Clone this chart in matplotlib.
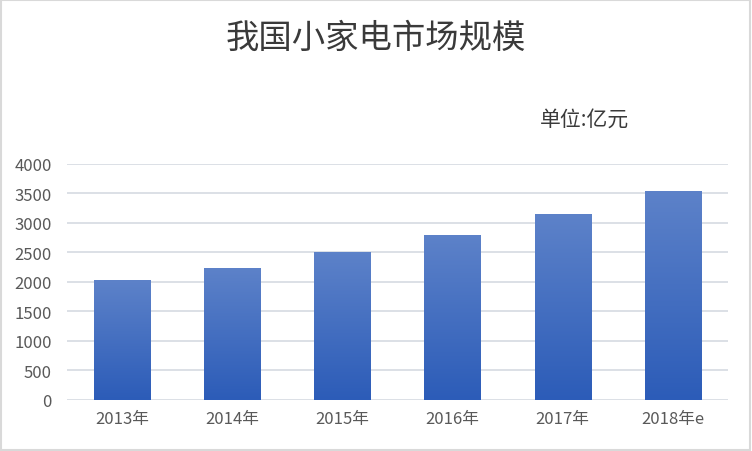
import matplotlib.pyplot as plt
import numpy as np
from matplotlib.patches import Rectangle

plt.rcParams['font.family'] = ['Noto Sans CJK SC', 'DejaVu Sans']

years = ['2013年', '2014年', '2015年', '2016年', '2017年', '2018年e']
market_size = [2030, 2240, 2510, 2800, 3150, 3550]

fig = plt.figure(figsize=(7.52, 4.52), dpi=100)
ax = fig.add_axes([0.089, 0.113, 0.879, 0.522])

bars = ax.bar(years, market_size, width=0.51, color='#4a72c4', zorder=2)

# vertical gradient, light on top, darker at the bottom
grad = np.linspace(0, 1, 256).reshape(-1, 1)
cmap = plt.matplotlib.colors.LinearSegmentedColormap.from_list('g', ['#2c5cb8', '#5d82c9'])
for b in bars:
    x0, w, h = b.get_x(), b.get_width(), b.get_height()
    im = ax.imshow(grad, cmap=cmap, origin='lower', aspect='auto',
                   extent=[x0, x0 + w, 0, h], zorder=3)
    im.set_clip_path(b)

ax.set_xlim(-0.5, 5.5)
ax.set_ylim(0, 4000)
ax.set_yticks(range(0, 4001, 500))
ax.grid(axis='y', color='#d9dde4', linewidth=1.3, zorder=0)
for s in ax.spines.values():
    s.set_visible(False)
ax.tick_params(length=0, labelsize=12, colors='#595959', pad=7)
ax.tick_params(axis='y', pad=11)

fig.text(0.5, 0.915, '我国小家电市场规模', ha='center', va='center',
         fontsize=24, color='#3a3a3a')
fig.text(0.718, 0.735, '单位:亿元', ha='left', va='center',
         fontsize=15, color='#3a3a3a', fontweight='medium')

fig.patches.append(Rectangle((0.001, 0.002), 0.997, 0.996, transform=fig.transFigure,
                             fill=False, edgecolor='#d9d9d9', linewidth=1.5))

fig.savefig('out.png', dpi=100)
